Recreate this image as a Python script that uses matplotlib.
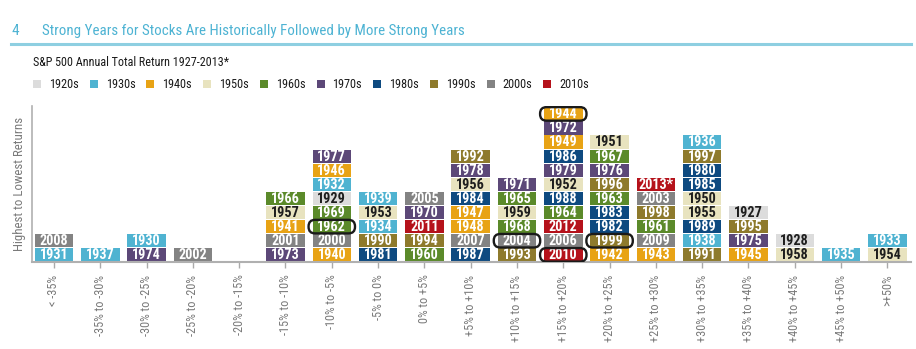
import matplotlib
matplotlib.use("Agg")
import matplotlib.pyplot as plt
from matplotlib import font_manager as fm
from matplotlib.patches import FancyBboxPatch, Rectangle
from matplotlib.lines import Line2D

# Prefer a condensed sans for the dense year labels
_installed = {f.name for f in fm.fontManager.ttflist}
_candidates = ["Roboto Condensed", "Barlow Condensed", "Archivo Narrow", "PT Sans Narrow",
               "Liberation Sans Narrow", "DejaVu Sans"]
COND = next(n for n in _candidates if n in _installed or n == "DejaVu Sans")
FONT = [COND, "DejaVu Sans"]
plt.rcParams["font.family"] = FONT

# Return buckets (x categories)
buckets = ["< -35%", "-35% to -30%", "-30% to -25%", "-25% to -20%", "-20% to -15%",
           "-15% to -10%", "-10% to -5%", "-5% to 0%", "0% to +5%", "+5% to +10%",
           "+10% to +15%", "+15% to +20%", "+20% to +25%", "+25% to +30%",
           "+30% to +35%", "+35% to +40%", "+40% to +45%", "+45% to +50%", ">+50%"]

# Years in each bucket, stacked lowest to highest return
years = [
    ["1931", "2008"],
    ["1937"],
    ["1974", "1930"],
    ["2002"],
    [],
    ["1973", "2001", "1941", "1957", "1966"],
    ["1940", "2000", "1962", "1969", "1929", "1932", "1946", "1977"],
    ["1981", "1990", "1934", "1953", "1939"],
    ["1960", "1994", "2011", "1970", "2005"],
    ["1987", "2007", "1948", "1947", "1984", "1956", "1978", "1992"],
    ["1993", "2004", "1968", "1959", "1965", "1971"],
    ["2010", "2006", "2012", "1964", "1988", "1952", "1979", "1986", "1949", "1972", "1944"],
    ["1942", "1999", "1982", "1983", "1963", "1996", "1976", "1967", "1951"],
    ["1943", "2009", "1961", "1998", "2003", "2013*"],
    ["1991", "1938", "1989", "1955", "1950", "1985", "1980", "1997", "1936"],
    ["1945", "1975", "1995", "1927"],
    ["1958", "1928"],
    ["1935"],
    ["1954", "1933"],
]

# Years outlined with a rounded frame
highlighted = ["1962", "2004", "2010", "1944", "1999"]

decades = ["1920s", "1930s", "1940s", "1950s", "1960s", "1970s", "1980s", "1990s", "2000s", "2010s"]
decade_colors = ["#dcdcdc", "#4fb3d1", "#e8a315", "#e8e3bf", "#5b8a2a",
                 "#5c4878", "#0e4a80", "#8e7a2c", "#838383", "#b5121b"]
dark_text_decades = {"1920s", "1950s"}

BLUE = "#4db3d3"
GRAY = "#7a7a7a"

fig = plt.figure(figsize=(9.16, 3.49), dpi=100)

# Header
fig.text(12 / 916, 1 - 31 / 349, "4", color=BLUE, fontsize=11, va="center", ha="left")
fig.text(42 / 916, 1 - 31 / 349, "Strong Years for Stocks Are Historically Followed by More Strong Years",
         color=BLUE, fontsize=10.8, va="center", ha="left")
fig.add_artist(Line2D([11 / 916, 911 / 916], [1 - 44 / 349, 1 - 44 / 349],
                      transform=fig.transFigure, color="#8ecfe1", lw=2.2))
fig.text(33 / 916, 1 - 62 / 349, "S&P 500 Annual Total Return 1927-2013*", color="#1a1a1a",
         fontsize=8.7, va="center", ha="left")

# Legend row
for i, (dec, col) in enumerate(zip(decades, decade_colors)):
    x0 = 33 + i * 56.7
    fig.add_artist(Rectangle((x0 / 916, 1 - 88 / 349), 8 / 916, 8 / 349,
                             transform=fig.transFigure, color=col, lw=0))
    fig.text((x0 + 16) / 916, 1 - 84 / 349, dec, color="#1a1a1a", fontsize=8.8,
             va="center", ha="left")

ax = fig.add_axes([32 / 916, 1 - 262 / 349, (911 - 32) / 916, (262 - 106) / 349])
ax.set_xlim(-0.475, 18.51)
ax.set_ylim(0, 11.07)

# pixel sizes of one data unit, used to keep the highlight frames pill-shaped
px_x = 46.3
px_y = 14.1

bw = 0.83
for xi, col_years in enumerate(years):
    for level, yr in enumerate(col_years):
        dec = yr[:3] + "0s"
        color = decade_colors[decades.index(dec)]
        ax.add_patch(Rectangle((xi - bw / 2, level + 0.04), bw, 0.94,
                               facecolor=color, edgecolor="none"))
        tc = "#1e1e1e" if dec in dark_text_decades else "white"
        ax.text(xi, level + 0.48, yr, color=tc, fontsize=10.2, fontweight="bold",
                ha="center", va="center")
        if yr in highlighted:
            padx = 4 / px_x
            ax.add_patch(FancyBboxPatch((xi - bw / 2 - padx, level + 0.03), bw + 2 * padx, 0.96,
                                        boxstyle="round,pad=0,rounding_size=%.3f" % (6.5 / px_x),
                                        mutation_aspect=px_x / px_y,
                                        facecolor="none", edgecolor="#1a1a1a", lw=1.7,
                                        zorder=5))

ax.set_xticks(range(len(buckets)))
ax.set_xticklabels(buckets, rotation=90, va="top", ha="center", color=GRAY, fontsize=8.8)
ax.tick_params(axis="x", length=4, width=1, color="#aaaaaa", pad=5)
ax.set_yticks([])
for side in ["top", "right"]:
    ax.spines[side].set_visible(False)
ax.spines["bottom"].set_color("#b0b0b0")
ax.spines["bottom"].set_linewidth(1.5)
ax.spines["left"].set_color("#b0b0b0")
ax.spines["left"].set_linewidth(1.2)
ax.set_ylabel("Highest to Lowest Returns", color=GRAY, fontsize=9.3, labelpad=4)

fig.savefig("out.png", dpi=100)
